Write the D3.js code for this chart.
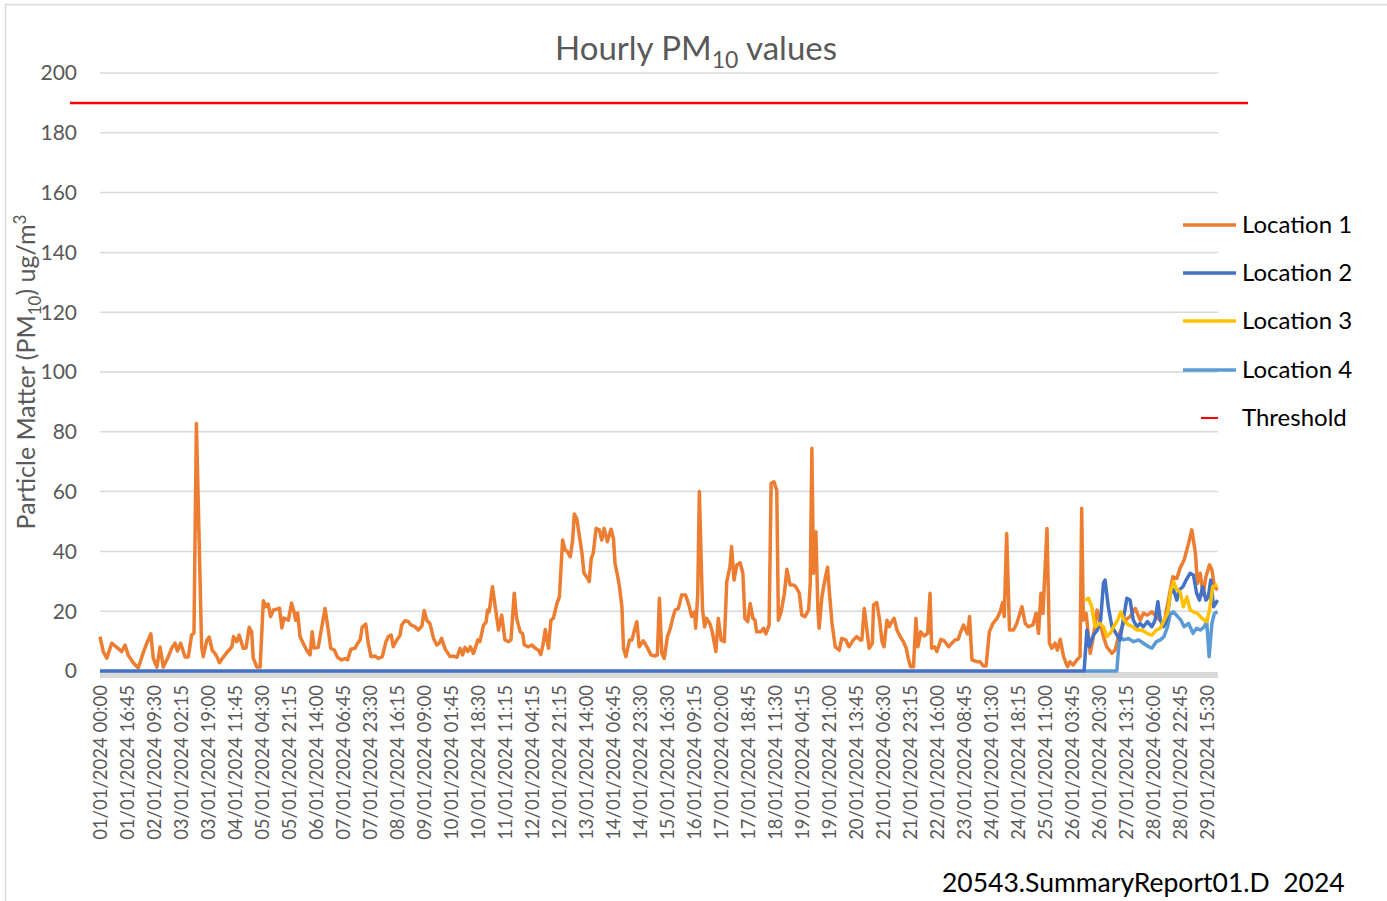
<!DOCTYPE html>
<html><head><meta charset="utf-8">
<script src="https://cdn.jsdelivr.net/npm/d3@7"></script>
<style>
html,body{margin:0;padding:0;background:#fff;}
svg{display:block;font-family:Lato, "Open Sans", sans-serif;}
</style></head><body>
<svg id="chart" width="1387" height="901"></svg>
<script>
// ---- DATA (x = 15-minute sample index since 01/01/2024 00:00, y = ug/m3) ----
const tickLabels = ["01/01/2024 00:00","01/01/2024 16:45","02/01/2024 09:30","03/01/2024 02:15","03/01/2024 19:00","04/01/2024 11:45","05/01/2024 04:30","05/01/2024 21:15","06/01/2024 14:00","07/01/2024 06:45","07/01/2024 23:30","08/01/2024 16:15","09/01/2024 09:00","10/01/2024 01:45","10/01/2024 18:30","11/01/2024 11:15","12/01/2024 04:15","12/01/2024 21:15","13/01/2024 14:00","14/01/2024 06:45","14/01/2024 23:30","15/01/2024 16:30","16/01/2024 09:15","17/01/2024 02:00","17/01/2024 18:45","18/01/2024 11:30","19/01/2024 04:15","19/01/2024 21:00","20/01/2024 13:45","21/01/2024 06:30","21/01/2024 23:15","22/01/2024 16:00","23/01/2024 08:45","24/01/2024 01:30","24/01/2024 18:15","25/01/2024 11:00","26/01/2024 03:45","26/01/2024 20:30","27/01/2024 13:15","28/01/2024 06:00","28/01/2024 22:45","29/01/2024 15:30"];
const labelStep = 67;          // samples between category labels
const sampleCount = 2772;      // number of 15-minute samples
const yTicks = [0,20,40,60,80,100,120,140,160,180,200];
const threshold = 190;

const loc1Idx = [0,8,17,29,41,54,62,70,83,95,107,116,126,132,141,149,157,169,178,186,192,200,211,219,227,233,239,252,256,265,271,278,288,296,304,314,327,331,339,345,355,362,370,376,380,389,397,405,411,417,423,430,438,445,451,456,467,475,481,485,490,496,504,513,521,526,531,541,550,558,566,572,581,589,599,609,614,622,632,639,645,650,659,665,672,682,690,700,709,715,722,727,736,744,748,756,765,771,781,789,798,804,810,818,827,835,841,847,856,868,876,885,893,899,905,912,918,926,937,942,951,957,961,965,973,980,988,996,1004,1013,1019,1027,1033,1042,1048,1052,1062,1071,1079,1087,1093,1099,1104,1112,1118,1124,1133,1139,1147,1153,1159,1166,1172,1176,1182,1189,1195,1200,1209,1213,1218,1223,1230,1238,1244,1250,1258,1267,1273,1277,1283,1288,1294,1298,1304,1313,1319,1324,1331,1337,1347,1356,1366,1376,1382,1387,1393,1399,1407,1414,1420,1426,1434,1442,1452,1460,1467,1474,1477,1482,1486,1494,1499,1504,1512,1518,1527,1533,1540,1548,1554,1562,1566,1572,1579,1587,1594,1599,1606,1612,1619,1624,1628,1639,1645,1651,1659,1664,1671,1678,1682,1689,1697,1703,1711,1719,1725,1734,1740,1748,1757,1761,1765,1769,1775,1780,1783,1790,1798,1804,1808,1815,1823,1833,1839,1849,1857,1868,1876,1885,1889,1895,1901,1907,1915,1918,1926,1933,1939,1944,1951,1957,1963,1969,1976,1984,1992,1999,2004,2010,2017,2023,2028,2035,2043,2052,2058,2062,2069,2075,2085,2093,2104,2112,2120,2128,2134,2141,2151,2156,2162,2174,2182,2190,2197,2205,2214,2224,2232,2238,2242,2248,2255,2265,2273,2286,2294,2302,2313,2321,2327,2333,2338,2348,2354,2360,2368,2374,2381,2389,2399,2405,2413,2422,2430,2434,2438,2445,2451,2455,2463,2472,2478,2488,2496,2509,2517,2525,2534,2542,2554,2567,2579,2587,2597,2608,2619,2629,2638,2649,2660,2670,2678,2688,2699,2707,2716,2721,2728,2735,2742,2751,2757,2763,2771];
const loc1Val = [11.5,6.5,4.3,9.3,8,6.5,8.7,5.3,2.7,1,6,9.3,12.4,4.3,1.3,8,1.3,4.7,7.7,9.3,6.7,9.3,4.7,4.7,12,12.7,82.8,8.1,4.8,10.3,11.3,7,5.3,2.8,4.3,6.1,8.1,11.5,9.8,12,7.6,7.7,14.6,13.1,4.3,1.3,1.3,23.5,21.5,22.4,18.2,20.4,20.7,21,14.4,17.7,17,22.7,19.8,17,19.4,11.5,9.3,6.8,5.4,13.1,7.7,7.9,14.8,20.9,13.7,7.6,7,4.6,3.7,4.2,3.7,7.3,7.6,9.3,10.4,14.6,15.7,9.3,4.8,5,4.2,4.8,9.8,11.5,12,8.1,10.4,12,15.4,16.8,16.5,15.4,14.8,13.7,15,20.2,17,15.9,10.9,8.7,9.3,10.9,7.3,4.8,5,4.6,7.6,5.4,7.9,6.5,8.1,5.9,10.4,9.8,15.4,16.2,20.4,19.8,28.2,21.5,13.7,18.7,10.4,9.8,10.4,26,17.6,13.1,12.4,8.7,8.1,8.7,7.6,7,5.5,9.3,13.9,7.6,17,17.6,22.6,24.8,43.8,40.5,39.9,38.2,43.8,52.5,51,44.9,39.4,32.7,31,29.9,37.7,39.4,47.7,47.2,43.8,47.7,43.2,47.4,44.4,36,32.1,28.2,21.5,7.6,4.8,10.4,10.4,13.1,16.5,8.1,10.1,8.1,5.4,5,5.4,24.3,5.9,4.2,11.5,14.3,17.6,20.4,20.9,25.4,25.4,22.1,18.2,19.8,14.3,25.4,60,20.4,14.8,17.6,15.9,13.1,6.5,17.6,10.4,9.8,29.9,34.9,41.6,30.4,35.5,36.2,32.7,17.6,16.5,22.6,17.6,17,13.1,13.1,14.3,12.4,15.4,62.8,63.3,60.5,17,19.8,26,34,28.8,28.8,28.2,26,18.7,18.2,20.4,29.3,74.5,32.7,46.6,20.4,14.3,24.8,31,34.7,27.1,15.9,8.1,7,10.9,10.4,8.1,10.4,11.5,10.4,10.4,20.9,14.3,7.6,9.3,22.1,22.9,17,9.8,8.1,17,14.8,16.5,17.6,13.7,11.5,9.8,7.6,4.2,1.4,1.4,17.6,8.1,13.1,11.7,12.6,26,7.6,8.1,6.5,10.6,10.1,8.1,9.3,10.4,10.6,13.1,15.4,12.4,18.2,3.7,3.1,3.1,1.7,1.7,13.1,15.9,17.6,19.8,22.9,18.2,46,13.7,13.7,15.9,21.5,15.9,14.8,15.4,19.3,12.6,26,19.3,47.7,9.3,7.6,9.3,7,10.6,4.8,1.4,3.1,2,3.7,4.8,54.4,17,19.3,11.5,5.9,11.5,20.4,17,11.5,8.1,5.9,7,11.5,14.8,17,18.2,20.9,17,19.3,18.7,19.8,18.2,17,15.9,23.7,31.5,31,34.4,37.1,42.7,47.2,39.4,29.3,32.7,25.4,31.5,35.5,33.8,28.2,27.1];

const loc2Idx = [0,2440,2447,2453,2463,2473,2481,2488,2492,2500,2509,2519,2529,2537,2546,2554,2562,2571,2579,2587,2597,2608,2616,2623,2629,2637,2645,2654,2662,2670,2676,2685,2693,2703,2711,2719,2726,2734,2742,2748,2754,2761,2771];
const loc2Val = [0,0,13.7,8.1,12,13.7,17,29.3,30.4,21.5,14.8,12.6,10.4,17,24.3,23.7,17,14.8,15.9,14.8,16.5,14.8,17,23.2,17,14.8,17,26,27.1,23.7,27.1,28.2,30.4,32.7,32.1,26,23.7,28.2,23.7,24.8,30.4,21.5,23.7];

const loc3Idx = [2442,2451,2459,2467,2478,2488,2496,2505,2513,2523,2531,2539,2550,2561,2571,2583,2596,2608,2619,2629,2638,2647,2655,2662,2670,2678,2686,2695,2703,2711,2721,2732,2744,2751,2759,2771];
const loc3Val = [23.7,24.3,21.5,14.8,15.9,14.8,11.5,12.6,14.8,17,19.8,17,15.4,14.8,13.7,13.7,12.6,12,13.7,14.3,17,19.3,27.1,29.9,27.1,26.5,21.5,24.8,20.4,19.8,19.3,17.6,16.5,20.4,28.2,28.8];

const loc4Idx = [2440,2521,2528,2538,2550,2563,2575,2587,2600,2608,2619,2629,2638,2647,2654,2662,2672,2680,2688,2699,2710,2719,2728,2738,2744,2750,2757,2763,2771];
const loc4Val = [0,0,11.5,10.4,10.9,9.8,10.4,9.3,8.1,7.6,9.8,10.4,11.5,14.8,19.3,19.8,18.2,17,14.8,15.9,12.6,14.3,13.7,14.8,16.5,4.8,15.9,19.3,19.8];

const seriesNames = ["Location 1","Location 2","Location 3","Location 4"];
const seriesColors = ["#ED7D31","#4472C4","#FFC000","#5B9BD5"];

// ---- CHART ----
const svg = d3.select("#chart");
const M = {left:100, right:1218, top:73, bottom:671};
const x = d3.scaleLinear().domain([0, sampleCount]).range([M.left, M.right]);
const y = d3.scaleLinear().domain([0, 200]).range([M.bottom, M.top]);
const textGrey = "#595959";

// outer chart border
svg.append("rect").attr("x",5.5).attr("y",4.5).attr("width",1400).attr("height",1000)
  .attr("fill","none").attr("stroke","#d9d9d9").attr("stroke-width",1.5);

// gridlines
svg.append("g").selectAll("line").data(yTicks.filter(d=>d>0)).join("line")
  .attr("x1",M.left).attr("x2",M.right).attr("y1",d=>y(d)).attr("y2",d=>y(d))
  .attr("stroke","#d9d9d9").attr("stroke-width",1.5);

// x axis band
svg.append("line").attr("x1",M.left).attr("x2",M.right)
  .attr("y1",y(0)+4).attr("y2",y(0)+4).attr("stroke","#d9d9d9").attr("stroke-width",6);

// y tick labels
svg.append("g").selectAll("text").data(yTicks).join("text")
  .attr("x",77).attr("y",d=>y(d)).attr("dy","0.35em").attr("text-anchor","end")
  .attr("fill",textGrey).attr("font-size",21).text(d=>d);

// x tick labels
svg.append("g").selectAll("text").data(tickLabels).join("text")
  .attr("transform",(d,i)=>`translate(${x(i*labelStep)+6.5},685) rotate(-90)`)
  .attr("text-anchor","end").attr("fill",textGrey).attr("font-size",18.5).text(d=>d);

// threshold
svg.append("line").attr("x1",70).attr("x2",1248).attr("y1",y(threshold)).attr("y2",y(threshold))
  .attr("stroke","#FF0000").attr("stroke-width",2.5);

// series lines
const line = d3.line().x(d=>x(d[0])).y(d=>y(d[1]));
const series = [
  d3.zip(loc1Idx, loc1Val),
  d3.zip(loc2Idx, loc2Val),
  d3.zip(loc3Idx, loc3Val),
  d3.zip(loc4Idx, loc4Val)
];
[0,3,1,2].forEach(k=>{
  svg.append("path").attr("d",line(series[k])).attr("fill","none")
    .attr("stroke",seriesColors[k]).attr("stroke-width",3.5).attr("stroke-linejoin","round");
});

// title
const title = svg.append("text").attr("x",696).attr("y",60).attr("text-anchor","middle")
  .attr("fill",textGrey).attr("font-size",33);
title.append("tspan").text("Hourly PM");
title.append("tspan").attr("font-size",23).attr("dy",8).text("10");
title.append("tspan").attr("dy",-8).text(" values");

// y axis title
const yt = svg.append("text").attr("transform","translate(35,372) rotate(-90)")
  .attr("text-anchor","middle").attr("fill",textGrey).attr("font-size",25);
yt.append("tspan").text("Particle Matter (PM");
yt.append("tspan").attr("font-size",17).attr("dy",6).text("10");
yt.append("tspan").attr("dy",-6).text(") ug/m");
yt.append("tspan").attr("font-size",17).attr("dy",-9).text("3");

// legend
const legY = [225,273,321,370];
seriesNames.forEach((n,i)=>{
  svg.append("line").attr("x1",1183).attr("x2",1236).attr("y1",legY[i]).attr("y2",legY[i])
    .attr("stroke",seriesColors[i]).attr("stroke-width",3.5);
  svg.append("text").attr("x",1242).attr("y",legY[i]).attr("dy","0.35em")
    .attr("font-size",24).attr("fill","#000").text(n);
});
svg.append("line").attr("x1",1201).attr("x2",1218).attr("y1",418).attr("y2",418)
  .attr("stroke","#FF0000").attr("stroke-width",2);
svg.append("text").attr("x",1242).attr("y",418).attr("dy","0.35em")
  .attr("font-size",24).attr("fill","#000").text("Threshold");

// footer
svg.append("text").attr("x",942).attr("y",892).attr("font-size",26.5).attr("fill","#000")
  .attr("xml:space","preserve").style("white-space","pre").text("20543.SummaryReport01.D  2024");
</script>
</body></html>
